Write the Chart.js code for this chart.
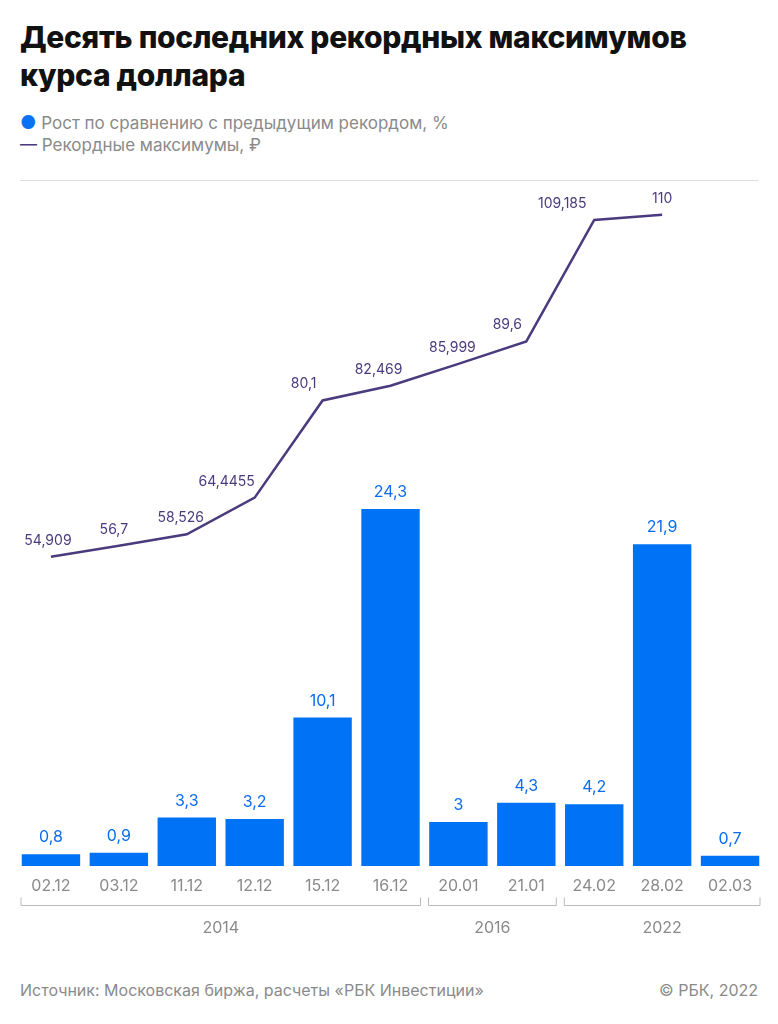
<!DOCTYPE html>
<html><head><meta charset="utf-8">
<script src="https://cdn.jsdelivr.net/npm/chart.js@4"></script>
<style>
body{margin:0;width:778px;height:1024px;background:#fff;font-family:Inter,"Noto Sans",sans-serif;position:relative;overflow:hidden}
h1{position:absolute;left:20px;top:18px;margin:0;font-size:30px;line-height:38px;font-weight:800;color:#111;letter-spacing:-0.3px}
.lg{position:absolute;left:20px;font-size:17px;color:#8a8a8a}
.sep{position:absolute;left:20px;right:20px;top:180px;border-top:1px solid #ddd}
#wrap{position:absolute;left:0;top:180px;width:778px;height:770px}
.ft{position:absolute;top:980px;font-size:16px;color:#8a8a8a}
</style></head><body>
<h1>Десять последних рекордных максимумов<br>курса доллара</h1>
<div class="lg" style="top:112px"><span style="color:#0a72f5;font-size:18px">●</span> Рост по сравнению с предыдущим рекордом, %</div>
<div class="lg" style="top:135px"><span style="color:#4b3a7e">—</span> Рекордные максимумы, ₽</div>
<div class="sep"></div>
<div id="wrap"><canvas id="c"></canvas></div>
<div class="ft" style="left:20px">Источник: Московская биржа, расчеты «РБК Инвестиции»</div>
<div class="ft" style="right:20px">© РБК, 2022</div>
<script>
const categories=["02.12","03.12","11.12","12.12","15.12","16.12","20.01","21.01","24.02","28.02","02.03"];
const growth=[0.8,0.9,3.3,3.2,10.1,24.3,3,4.3,4.2,21.9,0.7];
const rates=[54.909,56.7,58.526,64.4455,80.1,82.469,85.999,89.6,109.185,110,null];
const rateLabels=["54,909","56,7","58,526","64,4455","80,1","82,469","85,999","89,6","109,185","110"];
const years=[["2014",0,5],["2016",6,7],["2022",8,10]];
const lineLabelDx=[-3,-5,-6,-28,-19,-12,-6,-19,-32,0];
const fmt=v=>String(v).replace('.',',');
const deco={id:'deco',afterDatasetsDraw(ch){
 const c=ch.ctx,x=ch.scales.x,yb=ch.scales.yb,yl=ch.scales.yl;
 c.save();c.textAlign='center';c.textBaseline='alphabetic';
 c.font='16px Inter, "Noto Sans", sans-serif';c.fillStyle='#0a6cf0';
 growth.forEach((v,i)=>c.fillText(fmt(v),x.getPixelForValue(i),yb.getPixelForValue(v)-12));
 c.font='14px Inter, "Noto Sans", sans-serif';c.fillStyle='#4b3a7e';
 rates.forEach((v,i)=>{if(v==null)return;c.fillText(rateLabels[i],x.getPixelForValue(i)+lineLabelDx[i],yl.getPixelForValue(v)-12);});
 const base=ch.chartArea.bottom;
 c.font='16px Inter, "Noto Sans", sans-serif';c.fillStyle='#8a8a8a';
 categories.forEach((t,i)=>c.fillText(t,x.getPixelForValue(i),base+25));
 c.strokeStyle='#bbb';c.lineWidth=1;
 const half=(x.getPixelForValue(1)-x.getPixelForValue(0))/2;
 years.forEach(([t,a,b])=>{
  const x0=x.getPixelForValue(a)-half+4,x1=x.getPixelForValue(b)+half-4,yy=base+39.5;
  c.beginPath();c.moveTo(x0,yy-8);c.lineTo(x0,yy);c.lineTo(x1,yy);c.lineTo(x1,yy-8);c.stroke();
  c.fillText(t,(x0+x1)/2,base+67);
 });
 c.restore();}};
new Chart(document.getElementById('c'),{
 data:{labels:categories,datasets:[
  {type:'line',data:rates,yAxisID:'yl',borderColor:'#4b3a7e',borderWidth:2.5,pointRadius:0,tension:0,order:0},
  {type:'bar',data:growth,yAxisID:'yb',backgroundColor:'#0072f5',barPercentage:0.86,categoryPercentage:1,order:1}]},
 options:{responsive:true,maintainAspectRatio:false,animation:false,
  layout:{padding:{left:17,right:14,top:10,bottom:84}},
  plugins:{legend:{display:false},tooltip:{enabled:false}},
  scales:{x:{display:false},
   yb:{display:false,min:0,max:46},
   yl:{display:false,min:5.1,max:114}}},
 plugins:[deco]});
</script></body></html>
